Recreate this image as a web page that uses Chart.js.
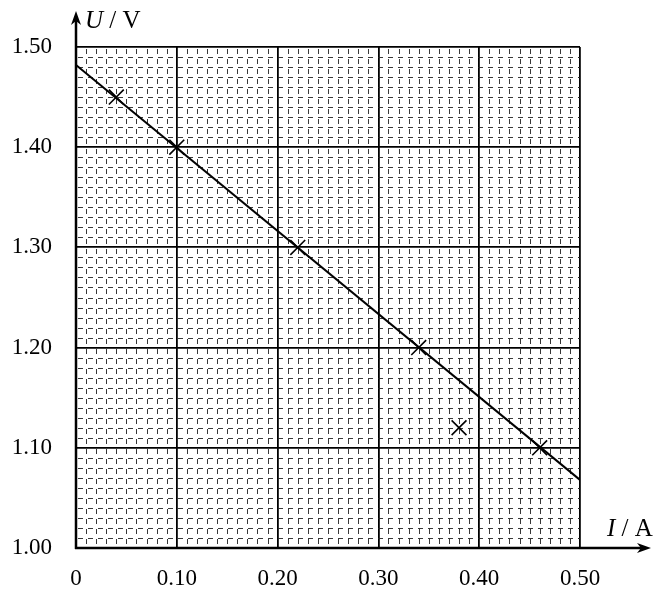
<!DOCTYPE html>
<html>
<head>
<meta charset="utf-8">
<script src="https://cdn.jsdelivr.net/npm/chart.js@4/dist/chart.umd.min.js"></script>
<style>
    html, body { margin: 0; padding: 0; background: #fff; }
    #wrap { width: 656px; height: 593px; }
</style>
</head>
<body>
<div id="wrap"><canvas id="myChart"></canvas></div>
<script>
// measured points (I in A, U in V)
const currentI = [0.04, 0.10, 0.22, 0.34, 0.38, 0.46];
const voltageU = [1.45, 1.40, 1.30, 1.20, 1.12, 1.10];

// fitted straight line, ends
const fitI = [0, 0.50];
const fitU = [1.482, 1.068];

const xTickLabels = ['0', '0.10', '0.20', '0.30', '0.40', '0.50'];
const yTickLabels = ['1.00', '1.10', '1.20', '1.30', '1.40', '1.50'];

const serif = '"Liberation Serif", "DejaVu Serif", serif';

const ctx = document.getElementById('myChart');

// dashed small grid + axis arrows + axis titles
const paperPlugin = {
    id: 'paper',
    beforeDatasetsDraw(chart) {
        const c = chart.ctx;
        const xs = chart.scales.x;
        const ys = chart.scales.y;
        const a = chart.chartArea;
        c.save();
        c.strokeStyle = '#222';
        c.lineWidth = 0.9;
        c.setLineDash([5, 5]);
        for (let k = 1; k < 50; k++) {
            if (k % 10 === 0) continue;
            const px = Math.round(xs.getPixelForValue(k / 100)) + 0.5;
            c.lineDashOffset = -2;
            c.beginPath();
            c.moveTo(px, a.top);
            c.lineTo(px, a.bottom);
            c.stroke();
            const py = Math.round(ys.getPixelForValue(1 + k / 100)) + 0.5;
            c.beginPath();
            c.moveTo(a.left, py);
            c.lineTo(a.right, py);
            c.stroke();
        }
        c.restore();
    },
    afterDraw(chart) {
        const c = chart.ctx;
        const a = chart.chartArea;
        c.save();
        c.strokeStyle = '#000';
        c.fillStyle = '#000';
        c.lineWidth = 2.5;
        // y axis
        c.beginPath();
        c.moveTo(a.left, a.bottom + 1);
        c.lineTo(a.left, 20);
        c.stroke();
        c.beginPath();
        c.moveTo(a.left, 11);
        c.lineTo(a.left - 5, 25);
        c.lineTo(a.left, 21);
        c.lineTo(a.left + 5, 25);
        c.closePath();
        c.fill();
        // x axis
        c.beginPath();
        c.moveTo(a.left - 1, a.bottom);
        c.lineTo(642, a.bottom);
        c.stroke();
        c.beginPath();
        c.moveTo(651, a.bottom);
        c.lineTo(637, a.bottom - 5);
        c.lineTo(641, a.bottom);
        c.lineTo(637, a.bottom + 5);
        c.closePath();
        c.fill();
        // titles
        c.textBaseline = 'alphabetic';
        c.textAlign = 'left';
        c.font = 'italic 25px ' + serif;
        c.fillText('U', 85, 28);
        let w = c.measureText('U').width;
        c.font = '25px ' + serif;
        c.fillText(' / V', 85 + w, 28);
        c.font = 'italic 25px ' + serif;
        c.fillText('I', 607, 536);
        w = c.measureText('I').width;
        c.font = '25px ' + serif;
        c.fillText(' / A', 607 + w, 536);
        c.restore();
    }
};

const cfg = {
    type: 'scatter',
    data: {
        datasets: [{
            label: 'fit',
            type: 'line',
            data: fitI.map((v, i) => ({ x: v, y: fitU[i] })),
            borderColor: '#000',
            borderWidth: 2,
            pointRadius: 0,
            fill: false
        }, {
            label: 'measured',
            data: currentI.map((v, i) => ({ x: v, y: voltageU[i] })),
            pointStyle: 'crossRot',
            pointRadius: 10.5,
            pointBorderWidth: 1.6,
            borderColor: '#000',
            backgroundColor: '#000'
        }]
    },
    options: {
        responsive: true,
        maintainAspectRatio: false,
        animation: false,
        layout: { padding: { left: 0, right: 76, top: 47, bottom: 0 } },
        plugins: {
            legend: { display: false },
            tooltip: { enabled: false }
        },
        scales: {
            x: {
                type: 'linear',
                min: 0,
                max: 0.5,
                afterFit: function (scale) { scale.height = 45; },
                ticks: {
                    stepSize: 0.1,
                    padding: 17,
                    color: '#000',
                    font: { family: serif, size: 23 },
                    maxRotation: 0,
                    callback: function (value, index) { return xTickLabels[index]; }
                },
                grid: { color: '#000', lineWidth: 1.8, drawTicks: false },
                border: { display: false }
            },
            y: {
                type: 'linear',
                min: 1.0,
                max: 1.5,
                afterFit: function (scale) { scale.width = 76; },
                ticks: {
                    stepSize: 0.1,
                    padding: 24,
                    color: '#000',
                    font: { family: serif, size: 23 },
                    callback: function (value, index) { return yTickLabels[index]; }
                },
                grid: { color: '#000', lineWidth: 1.8, drawTicks: false },
                border: { display: false }
            }
        }
    },
    plugins: [paperPlugin]
};

let myChart = new Chart(ctx, cfg);
</script>
</body>
</html>
